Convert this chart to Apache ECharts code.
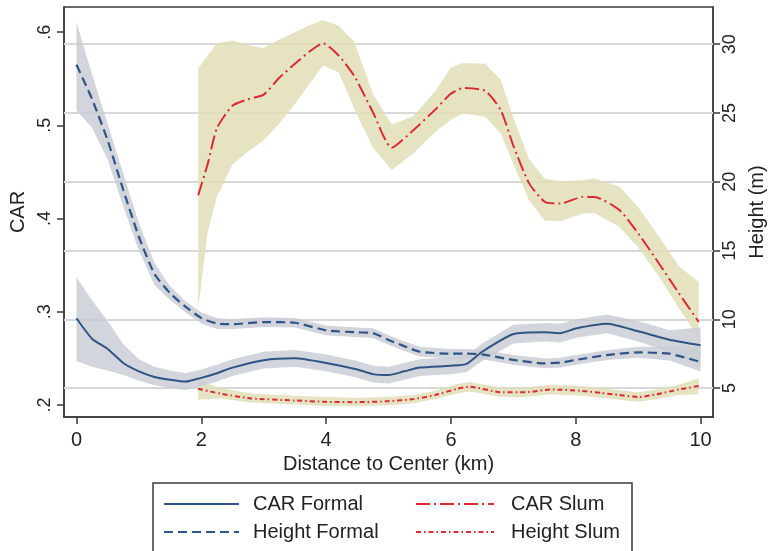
<!DOCTYPE html>
<html>
<head>
<meta charset="utf-8">
<script src="https://cdn.jsdelivr.net/npm/echarts@6/dist/echarts.min.js"></script>
<style>html,body{margin:0;padding:0;background:#fff}#c{width:775px;height:551px}</style>
</head>
<body>
<div id="c"></div>
<script>
// ---- data ----
const xTicks = [0, 2, 4, 6, 8, 10];
const carTicks = [0.2, 0.3, 0.4, 0.5, 0.6];
const heightTicks = [5, 10, 15, 20, 25, 30];

const xFormal = [0,0.25,0.5,0.75,1,1.25,1.5,1.75,2,2.25,2.5,3,3.5,4,4.5,4.75,5,5.25,5.5,6,6.25,6.5,7,7.5,7.75,8,8.5,9,9.5,10];
const carFormal = [0.293,0.271,0.260,0.245,0.236,0.230,0.227,0.225,0.229,0.234,0.240,0.248,0.250,0.245,0.238,0.233,0.232,0.236,0.240,0.242,0.244,0.257,0.276,0.278,0.277,0.282,0.287,0.279,0.270,0.264];
const carFormalHi = [0.337,0.312,0.290,0.265,0.249,0.241,0.237,0.234,0.238,0.243,0.249,0.257,0.259,0.254,0.247,0.242,0.241,0.245,0.249,0.251,0.253,0.266,0.286,0.288,0.287,0.292,0.297,0.290,0.280,0.283];
const carFormalLo = [0.247,0.241,0.237,0.232,0.226,0.221,0.218,0.216,0.220,0.225,0.231,0.239,0.241,0.236,0.229,0.224,0.223,0.227,0.231,0.233,0.235,0.247,0.266,0.268,0.267,0.272,0.277,0.268,0.257,0.244];
const heightFormal = [28.5,26.0,23.0,19.4,16.0,13.3,11.9,10.9,10.1,9.7,9.65,9.8,9.75,9.2,9.05,9.0,8.5,8.05,7.65,7.5,7.5,7.45,7.05,6.8,6.85,7.05,7.4,7.6,7.5,6.9];
const heightFormalHi = [31.6,27.8,24.2,20.6,17.0,14.1,12.4,11.3,10.5,10.1,10.0,10.15,10.1,9.55,9.4,9.35,8.85,8.4,8.0,7.85,7.85,7.8,7.4,7.15,7.2,7.4,7.75,8.0,8.0,8.0];
const heightFormalLo = [25.2,23.9,21.6,18.2,15.0,12.5,11.4,10.5,9.7,9.3,9.3,9.45,9.4,8.85,8.7,8.65,8.15,7.7,7.3,7.15,7.15,7.1,6.7,6.45,6.5,6.7,7.05,7.2,7.0,6.2];

const xCarSlum = [1.95,2.1,2.25,2.5,2.75,3,3.25,3.5,3.75,3.95,4.2,4.45,4.75,5.05,5.4,5.75,6,6.2,6.55,6.8,7,7.25,7.5,7.75,8.1,8.3,8.7,9,9.33,9.65,9.97];
const carSlum = [0.425,0.458,0.497,0.521,0.528,0.533,0.551,0.566,0.580,0.588,0.575,0.553,0.514,0.476,0.495,0.517,0.534,0.540,0.537,0.516,0.478,0.438,0.418,0.416,0.423,0.423,0.409,0.384,0.352,0.320,0.289];
const carSlumHi = [0.561,0.575,0.588,0.591,0.586,0.583,0.592,0.600,0.608,0.613,0.607,0.590,0.534,0.501,0.510,0.537,0.562,0.567,0.566,0.549,0.508,0.464,0.443,0.440,0.441,0.443,0.434,0.412,0.381,0.349,0.332];
const carSlumLo = [0.302,0.385,0.423,0.458,0.472,0.484,0.502,0.523,0.546,0.564,0.557,0.518,0.476,0.452,0.470,0.493,0.506,0.513,0.509,0.491,0.458,0.420,0.398,0.397,0.405,0.406,0.391,0.369,0.338,0.304,0.272];

const xHeightSlum = [1.95,2.3,2.8,3.5,4,4.5,5,5.4,5.75,6.1,6.3,6.8,7.2,7.6,8.1,8.4,8.7,9,9.3,9.65,9.97];
const heightSlum = [4.95,4.6,4.25,4.1,4.0,3.98,4.05,4.2,4.5,4.95,5.1,4.7,4.7,4.9,4.8,4.65,4.5,4.35,4.55,4.9,5.15];
const heightSlumHi = [5.55,5.0,4.6,4.45,4.35,4.3,4.35,4.5,4.8,5.3,5.45,5.05,5.05,5.25,5.15,5.0,4.85,4.7,4.9,5.25,5.7];
const heightSlumLo = [4.15,4.25,3.95,3.8,3.7,3.68,3.75,3.9,4.2,4.6,4.75,4.35,4.35,4.55,4.45,4.3,4.15,4.0,4.2,4.5,4.55];

// ---- styling ----
const FONT = 'Liberation Sans, Arial, Helvetica, sans-serif';
const TXT = '#222';
const AX = '#3a3a3a';
const BLUE = '#2f5586';
const RED = '#dc2a33';
const GRAYBAND = 'rgba(200,204,211,0.82)';
const KHAKI = 'rgba(226,222,185,0.85)';

function pairs(xs, ys) { return xs.map((x, i) => [x, ys[i]]); }

function band(name, xs, lo, hi, yIdx, color, z) {
  return {
    type: 'custom', name: name, yAxisIndex: yIdx, z: z, silent: true,
    data: xs.map((x, i) => [x, lo[i], hi[i]]),
    encode: { x: 0, y: [1, 2] },
    renderItem: function (params, api) {
      if (params.dataIndex !== 0) return null;
      const pts = [];
      for (let i = 0; i < xs.length; i++) pts.push(api.coord([xs[i], hi[i]]));
      for (let i = xs.length - 1; i >= 0; i--) pts.push(api.coord([xs[i], lo[i]]));
      return { type: 'polygon', shape: { points: pts }, style: { fill: color, stroke: null } };
    }
  };
}

function line(name, xs, ys, yIdx, color, width, type, z) {
  return {
    type: 'line', name: name, yAxisIndex: yIdx, z: z,
    data: pairs(xs, ys), symbol: 'none', showSymbol: false, smooth: 0.2,
    lineStyle: { color: color, width: width, type: type },
    itemStyle: { color: color }
  };
}

const chart = echarts.init(document.getElementById('c'), null, { renderer: 'canvas' });
const option = {
  animation: false,
  backgroundColor: '#fff',
  textStyle: { fontFamily: FONT },
  grid: { left: 64, right: 56, top: 7, bottom: 134, show: true, borderColor: AX, borderWidth: 1.5, backgroundColor: '#fff' },
  xAxis: {
    type: 'value', min: -0.2, max: 10.2,
    axisLine: { onZero: false, lineStyle: { color: AX, width: 1.5 } },
    axisTick: { show: true, customValues: xTicks, length: 7, lineStyle: { color: AX, width: 1.5 } },
    axisLabel: { customValues: xTicks, fontSize: 20, color: TXT, margin: 13, fontFamily: FONT },
    splitLine: { show: false },
    name: 'Distance to Center (km)', nameLocation: 'middle', nameGap: 33,
    nameTextStyle: { fontSize: 20, color: TXT, fontFamily: FONT }
  },
  yAxis: [
    {
      type: 'value', min: 0.187, max: 0.627, position: 'left',
      axisLine: { show: true, onZero: false, lineStyle: { color: AX, width: 1.5 } },
      axisTick: { show: true, customValues: carTicks, length: 7, lineStyle: { color: AX, width: 1.5 } },
      axisLabel: { customValues: carTicks, rotate: 90, fontSize: 18, color: TXT, margin: 10, fontFamily: FONT,
        formatter: function (v) { return '.' + Math.round(v * 10); } },
      splitLine: { show: false },
      name: 'CAR', nameLocation: 'middle', nameGap: 36, nameRotate: 90,
      nameTextStyle: { fontSize: 20, color: TXT, fontFamily: FONT }
    },
    {
      type: 'value', min: 2.9, max: 32.7, position: 'right',
      axisLine: { show: true, onZero: false, lineStyle: { color: AX, width: 1.5 } },
      axisTick: { show: true, customValues: heightTicks, length: 7, lineStyle: { color: AX, width: 1.5 } },
      axisLabel: { customValues: heightTicks, rotate: 90, fontSize: 18, color: TXT, margin: 8, fontFamily: FONT },
      splitLine: { show: false },
      name: 'Height (m)', nameLocation: 'middle', nameGap: 28, nameRotate: 90,
      nameTextStyle: { fontSize: 20, color: TXT, fontFamily: FONT }
    }
  ],
  legend: [
    { data: ['CAR Formal', 'Height Formal'], orient: 'vertical', left: 163, top: 494,
      itemWidth: 75, itemHeight: 14, itemGap: 8, selectedMode: false, padding: 0,
      itemStyle: { opacity: 0 },
      textStyle: { fontSize: 20, color: TXT, fontFamily: FONT, padding: [0, 0, 0, 9] } },
    { data: ['CAR Slum', 'Height Slum'], orient: 'vertical', left: 415, top: 494,
      itemWidth: 78, itemHeight: 14, itemGap: 8, selectedMode: false, padding: 0,
      itemStyle: { opacity: 0 },
      textStyle: { fontSize: 20, color: TXT, fontFamily: FONT, padding: [0, 0, 0, 12] } }
  ],
  graphic: [
    { type: 'rect', shape: { x: 153, y: 483, width: 479, height: 110 },
      style: { fill: 'none', stroke: AX, lineWidth: 1.5 }, z: 0 }
  ],
  series: [
    { type: 'line', name: 'gridlines', yAxisIndex: 1, data: [], z: 1,
      markLine: { silent: true, symbol: 'none', z: 1, label: { show: false },
        lineStyle: { color: '#d8d8d8', width: 2, type: 'solid' },
        data: heightTicks.map(v => ({ yAxis: v })) } },
    band('bandCarSlum', xCarSlum, carSlumLo, carSlumHi, 0, KHAKI, 2),
    band('bandHeightSlum', xHeightSlum, heightSlumLo, heightSlumHi, 1, KHAKI, 2),
    band('bandHeightFormal', xFormal, heightFormalLo, heightFormalHi, 1, GRAYBAND, 2),
    band('bandCarFormal', xFormal, carFormalLo, carFormalHi, 0, GRAYBAND, 2),
    line('CAR Formal', xFormal, carFormal, 0, BLUE, 2, 'solid', 4),
    line('Height Formal', xFormal, heightFormal, 1, BLUE, 2.2, [9, 5], 4),
    line('CAR Slum', xCarSlum, carSlum, 0, RED, 2, [14, 4, 2, 4], 4),
    line('Height Slum', xHeightSlum, heightSlum, 1, RED, 2, [5, 3, 1.5, 3], 4)
  ]
};
chart.setOption(option);
</script>
</body>
</html>
